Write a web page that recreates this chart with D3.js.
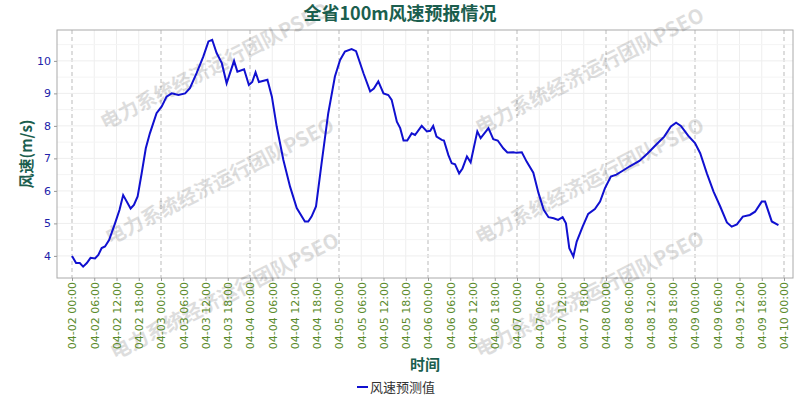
<!DOCTYPE html>
<html><head><meta charset="utf-8">
<script src="https://cdn.jsdelivr.net/npm/d3@7"></script>
<style>body{margin:0;background:#fff}</style></head>
<body><svg id="c" width="800" height="400"></svg>
<script>
const hours=[0,1.1,2.1,3,4,5,6.2,7.1,8,8.9,10,11.6,12.8,13.8,15.8,16.7,17.7,18.8,19.9,21,22.8,24.2,25.5,26.9,28.7,30.5,31.8,33.6,35.4,36.8,37.8,39,40.4,41.7,43.7,44.6,46.4,47.7,48.6,49.5,50.4,52.7,53.9,55.2,57,58.8,60.6,62.8,63.7,64.6,65.8,67.3,69.1,70.9,72.3,73.6,75.4,76.6,78.6,80.4,81.4,82.6,84,85.3,86.2,87.6,88.5,89.4,90.4,91.6,92.5,94.3,95.7,96.6,97.4,98.3,99.7,100.3,101.5,102.4,103.3,104.4,105.3,106.5,107.5,109.3,110.2,112.3,113.6,114.8,116.3,117.4,119,119.9,121.3,122.6,124.4,125.8,127.2,128.5,129.9,131.1,132.3,133.2,134.1,135.2,136.1,137.7,139.2,141,142.4,143.7,145.3,146.8,148.5,150.3,153,155.2,157.5,159.7,161.5,162.9,164.2,166.2,168,169.4,171.2,173,174.8,176.6,177.9,179.3,180.9,182.8,184.2,186,186.9,188.7,190.5];
const values=[4.0,3.78,3.78,3.67,3.78,3.94,3.92,4.03,4.24,4.29,4.49,5.0,5.41,5.87,5.46,5.57,5.83,6.55,7.31,7.77,8.39,8.6,8.9,9.0,8.95,9.0,9.16,9.62,10.13,10.6,10.65,10.24,9.93,9.31,10.0,9.67,9.74,9.26,9.35,9.65,9.35,9.42,8.9,7.98,6.95,6.13,5.47,5.06,5.06,5.21,5.52,6.85,8.39,9.52,10.03,10.29,10.36,10.3,9.62,9.06,9.15,9.37,9.0,8.95,8.8,8.13,7.93,7.55,7.55,7.77,7.72,8.0,7.83,7.85,8.0,7.67,7.57,7.55,7.1,6.85,6.82,6.54,6.69,7.06,6.88,7.83,7.62,7.93,7.59,7.55,7.31,7.18,7.19,7.17,7.19,6.9,6.56,5.93,5.42,5.19,5.16,5.11,5.19,5.0,4.24,3.98,4.44,4.9,5.29,5.44,5.67,6.08,6.44,6.5,6.62,6.75,6.92,7.15,7.42,7.67,7.98,8.1,8.0,7.69,7.47,7.16,6.54,5.98,5.52,5.03,4.9,4.97,5.21,5.26,5.36,5.67,5.67,5.06,4.95];
const yTicks=[4,5,6,7,8,9,10];
const tickHours=d3.range(0,193,6);
const days=['04-02','04-03','04-04','04-05','04-06','04-07','04-08','04-09','04-10'];
const hh=['00:00','06:00','12:00','18:00'];
const tickLabel=h=>days[Math.floor(h/24)]+' '+hh[(h%24)/6];

const svg=d3.select('#c');
const L=57,R=793,T=30,B=278;
const x=d3.scaleLinear().domain([0,192]).range([72,72+192*89/24]);
const y=d3.scaleLinear().domain([3.32,10.95]).range([B,T]);
const g=svg.append('g');
// grid
g.selectAll('.vg').data(tickHours).join('line').attr('x1',d=>x(d)).attr('x2',d=>x(d)).attr('y1',T).attr('y2',B)
 .attr('stroke',d=>d%24===0?'#bbb':'#eee').attr('stroke-dasharray',d=>d%24===0?'4,3':null).attr('stroke-width',1);
g.selectAll('.hg').data(yTicks).join('line').attr('x1',L).attr('x2',R).attr('y1',d=>y(d)).attr('y2',d=>y(d)).attr('stroke','#eee');
g.selectAll('.hg2').data(yTicks.map(v=>v+0.5)).join('line').attr('x1',L).attr('x2',R).attr('y1',d=>y(d)).attr('y2',d=>y(d)).attr('stroke','#f4f4f4');
svg.append('rect').attr('x',L).attr('y',T).attr('width',R-L).attr('height',B-T).attr('fill','none').attr('stroke','#aaa');
// watermark
const wm=[[105,130],[110,245],[115,360],[480,135],[480,245],[480,358]];
svg.selectAll('.wm').data(wm).join('text').attr('transform',d=>`translate(${d[0]},${d[1]}) rotate(-27)`)
 .text('电力系统经济运行团队PSEO').attr('font-family','Noto Sans CJK SC').attr('font-size',20).attr('font-weight','bold')
 .attr('fill','#000').attr('opacity',0.13);
// line
svg.append('path').datum(hours.map((h,i)=>[h,values[i]])).attr('d',d3.line().x(d=>x(d[0])).y(d=>y(d[1])))
 .attr('fill','none').attr('stroke','#1010d0').attr('stroke-width',2);
// y axis
const ya=svg.append('g').attr('transform',`translate(${L},0)`).call(d3.axisLeft(y).tickValues(yTicks).tickSize(3).tickFormat(d3.format('d')));
ya.select('.domain').remove();
ya.selectAll('line').attr('stroke','#999');
ya.selectAll('text').attr('fill','#2222aa').attr('font-size',11).attr('font-family','DejaVu Sans');
// x axis
const xa=svg.append('g').attr('transform',`translate(0,${B})`).call(d3.axisBottom(x).tickValues(tickHours).tickSize(3).tickFormat(tickLabel));
xa.select('.domain').remove();
xa.selectAll('line').attr('stroke','#999');
xa.selectAll('text').attr('fill','#5a8a2a').attr('font-size',11).attr('font-family','DejaVu Sans')
 .attr('transform','rotate(-90)').attr('text-anchor','end').attr('dx','-4').attr('dy','0.35em').attr('x',0).attr('y',0);
// titles
const tc='#1b5e4e';
svg.append('text').attr('x',400).attr('y',20).attr('text-anchor','middle').text('全省100m风速预报情况')
 .attr('font-family','Noto Sans CJK SC').attr('font-weight','bold').attr('font-size',18).attr('fill',tc);
svg.append('text').attr('transform','translate(32,154) rotate(-90)').attr('text-anchor','middle').text('风速(m/s)')
 .attr('font-family','Noto Sans CJK SC').attr('font-weight','bold').attr('font-size',15).attr('fill',tc);
svg.append('text').attr('x',425).attr('y',370).attr('text-anchor','middle').text('时间')
 .attr('font-family','Noto Sans CJK SC').attr('font-weight','bold').attr('font-size',15).attr('fill',tc);
svg.append('line').attr('x1',357).attr('x2',368).attr('y1',387).attr('y2',387).attr('stroke','#1010d0').attr('stroke-width',2);
svg.append('text').attr('x',370).attr('y',392).text('风速预测值').attr('font-family','Noto Sans CJK SC').attr('font-size',13).attr('fill','#333');
</script></body></html>
